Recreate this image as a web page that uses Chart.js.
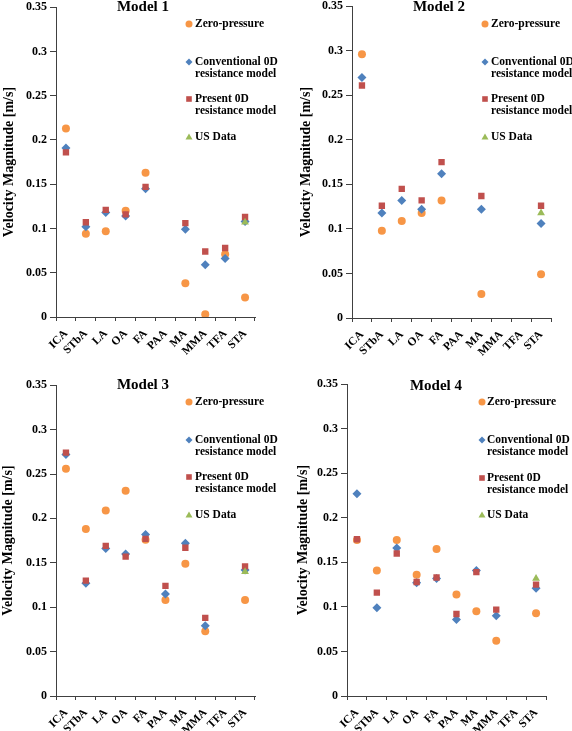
<!DOCTYPE html>
<html>
<head>
<meta charset="utf-8">
<script src="https://cdn.jsdelivr.net/npm/chart.js@4/dist/chart.umd.min.js"></script>
<style>
  html, body { margin: 0; padding: 0; background: #fff; overflow: hidden; }
  body { width: 572px; height: 731px; position: relative; }
  .panel { position: absolute; width: 286px; }
</style>
</head>
<body>
<div class="panel" style="left:0;top:-3px;height:365px"><canvas id="c1"></canvas></div>
<div class="panel" style="left:286px;top:-4px;height:367px"><canvas id="c2"></canvas></div>
<div class="panel" style="left:0;top:375px;height:366px"><canvas id="c3"></canvas></div>
<div class="panel" style="left:286px;top:374px;height:367px"><canvas id="c4"></canvas></div>
<script>
const categories = ['ICA', 'STbA', 'LA', 'OA', 'FA', 'PAA', 'MA', 'MMA', 'TFA', 'STA']
const yTickLabels = ['0', '0.05', '0.1', '0.15', '0.2', '0.25', '0.3', '0.35']
const seriesNames = [['Zero-pressure'], ['Conventional 0D', 'resistance model'], ['Present 0D', 'resistance model'], ['US Data']]

// Model 1
const zero1 = [0.213, 0.094, 0.097, 0.120, 0.163, null, 0.038, 0.003, 0.071, 0.022]
const conv1 = [0.191, 0.102, 0.118, 0.114, 0.145, null, 0.099, 0.059, 0.066, 0.108]
const pres1 = [0.186, 0.107, 0.121, 0.116, 0.147, null, 0.106, 0.074, 0.078, 0.113]
const us1   = [null, null, null, null, null, null, null, null, null, 0.107]

// Model 2
const zero2 = [0.296, 0.098, 0.109, 0.118, 0.132, null, 0.027, null, null, 0.049]
const conv2 = [0.270, 0.118, 0.132, 0.122, 0.162, null, 0.122, null, null, 0.106]
const pres2 = [0.261, 0.126, 0.145, 0.132, 0.175, null, 0.137, null, null, 0.126]
const us2   = [null, null, null, null, null, null, null, null, null, 0.118]

// Model 3
const zero3 = [0.256, 0.188, 0.209, 0.231, 0.176, 0.108, 0.149, 0.073, null, 0.108]
const conv3 = [0.272, 0.127, 0.166, 0.160, 0.182, 0.115, 0.172, 0.079, null, 0.142]
const pres3 = [0.274, 0.130, 0.169, 0.157, 0.177, 0.124, 0.167, 0.088, null, 0.146]
const us3   = [null, null, null, null, null, null, null, null, null, 0.140]

// Model 4
const zero4 = [0.175, 0.141, 0.175, 0.136, 0.165, 0.114, 0.095, 0.062, null, 0.093]
const conv4 = [0.227, 0.099, 0.166, 0.127, 0.132, 0.086, 0.141, 0.090, null, 0.121]
const pres4 = [0.176, 0.116, 0.160, 0.128, 0.133, 0.092, 0.139, 0.097, null, 0.125]
const us4   = [null, null, null, null, null, null, null, null, null, 0.132]

const serif = "'Liberation Serif', 'Times New Roman', serif"
const colors = ['#F79646', '#4F81BD', '#C0504D', '#9BBB59']
const styles = ['circle', 'rectRot', 'rect', 'triangle']
const radii = [4, 4.5, 4.5, 4.5]

// small legend marker, drawn by hand
function marker(ctx, style, x, y, r) {
    ctx.beginPath()
    if (style === 'circle') {
        ctx.arc(x, y, r, 0, Math.PI * 2)
    } else if (style === 'rectRot') {
        ctx.moveTo(x, y - r); ctx.lineTo(x + r, y); ctx.lineTo(x, y + r); ctx.lineTo(x - r, y)
    } else if (style === 'rect') {
        ctx.rect(x - r * 0.8, y - r * 0.8, r * 1.6, r * 1.6)
    } else {
        ctx.moveTo(x, y - r); ctx.lineTo(x + r, y + r * 0.7); ctx.lineTo(x - r, y + r * 0.7)
    }
    ctx.closePath()
    ctx.fill()
}

const overlay = {
    id: 'overlay',
    afterDraw(chart, args, opts) {
        const ctx = chart.ctx
        ctx.save()
        ctx.fillStyle = '#000'
        ctx.textBaseline = 'middle'
        ctx.textAlign = 'center'
        ctx.font = 'bold 15px ' + serif
        ctx.fillText(opts.title, opts.titleX, opts.titleY)
        ctx.textAlign = 'left'
        ctx.font = 'bold 11.5px ' + serif
        seriesNames.forEach((lines, i) => {
            const y = opts.legendY[i]
            ctx.fillStyle = colors[i]
            marker(ctx, styles[i], opts.markerX, y, 3.5)
            ctx.fillStyle = '#000'
            lines.forEach((t, k) => ctx.fillText(t, opts.textX, y + k * 12.5))
        })
        ctx.restore()
    }
}

function makeChart(id, series, cfg) {
    const datasets = series.map((d, i) => ({
        label: seriesNames[i].join(' '),
        data: d,
        showLine: false,
        pointStyle: styles[i],
        pointRadius: radii[i],
        pointHoverRadius: radii[i],
        pointBorderWidth: 0,
        backgroundColor: colors[i],
        borderColor: colors[i],
        order: 4 - i
    }))
    return new Chart(document.getElementById(id), {
        type: 'line',
        data: { labels: categories, datasets: datasets },
        plugins: [overlay],
        options: {
            responsive: true,
            maintainAspectRatio: false,
            animation: false,
            layout: { padding: { left: 0, top: 8, right: cfg.right, bottom: 0 } },
            plugins: {
                legend: { display: false },
                tooltip: { enabled: false },
                overlay: cfg.overlay
            },
            scales: {
                x: {
                    offset: true,
                    grid: { offset: true, drawOnChartArea: false, drawTicks: true, tickLength: 4, color: '#404040' },
                    border: { color: '#404040', width: 1 },
                    ticks: {
                        autoSkip: false, maxRotation: 45, minRotation: 45, padding: 6,
                        color: '#000', font: { family: serif, size: 11.5, weight: 'bold' }
                    },
                    afterFit: s => { s.height = 45 }
                },
                y: {
                    min: 0,
                    max: 0.35,
                    grid: { drawOnChartArea: false, drawTicks: true, tickLength: 6, color: '#404040' },
                    border: { color: '#404040', width: 1 },
                    ticks: {
                        stepSize: 0.05, padding: 3, color: '#000',
                        font: { family: serif, size: 12, weight: 'bold' },
                        callback: v => yTickLabels[Math.round(v / 0.05)]
                    },
                    title: {
                        display: true,
                        text: 'Velocity Magnitude [m/s]',
                        color: '#000',
                        font: { family: serif, size: 14, weight: 'bold' },
                        padding: { top: cfg.titlePad, bottom: 0 }
                    },
                    afterFit: s => { s.width = cfg.yWidth }
                }
            }
        }
    })
}

makeChart('c1', [zero1, conv1, pres1, us1], {
    right: 31, yWidth: 56, titlePad: 1,
    overlay: { title: 'Model 1', titleX: 143, titleY: 10, markerX: 189, textX: 195, legendY: [27, 65, 102, 140] }
})
makeChart('c2', [zero2, conv2, pres2, us2], {
    right: 21, yWidth: 66, titlePad: 12,
    overlay: { title: 'Model 2', titleX: 153, titleY: 11, markerX: 199, textX: 205, legendY: [28, 66, 103, 141] }
})
makeChart('c3', [zero3, conv3, pres3, us3], {
    right: 31, yWidth: 56, titlePad: 0,
    overlay: { title: 'Model 3', titleX: 143, titleY: 10, markerX: 189, textX: 195, legendY: [27, 65, 102, 140] }
})
makeChart('c4', [zero4, conv4, pres4, us4], {
    right: 26, yWidth: 61, titlePad: 9,
    overlay: { title: 'Model 4', titleX: 150, titleY: 12, markerX: 196, textX: 201, legendY: [28, 66, 104, 141] }
})
</script>
</body>
</html>
